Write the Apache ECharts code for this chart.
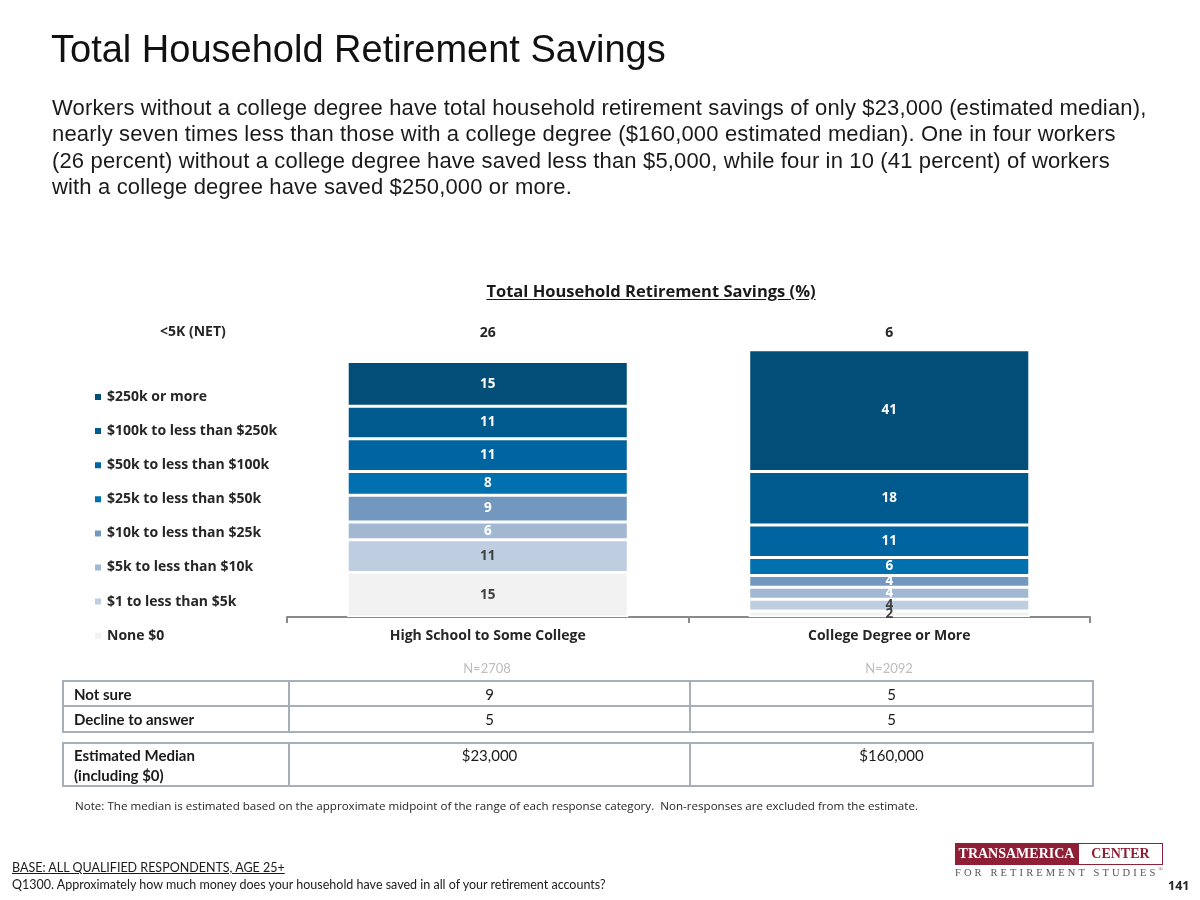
<!DOCTYPE html>
<html>
<head>
<meta charset="utf-8">
<script src="https://cdn.jsdelivr.net/npm/echarts@6/dist/echarts.min.js"></script>
<style>
  html, body { margin:0; padding:0; background:#fff; }
  body { width:1200px; height:900px; position:relative; overflow:hidden; }
  #chart { position:absolute; left:0; top:0; width:1200px; height:900px; }
  .abs { position:absolute; white-space:nowrap; }
  #title { left:51px; top:27px; font-family:"Liberation Sans", Arial, sans-serif; font-size:38px; line-height:44px; color:#111; }
  #sub { left:52px; top:95px; font-family:"Liberation Sans", Arial, sans-serif; font-size:22px; line-height:26.4px; letter-spacing:0.15px; color:#1a1a1a; }
  #ctitle { left:0; width:1302px; text-align:center; top:279px; font-family:"Open Sans", sans-serif; font-weight:bold; font-size:16.5px; color:#1a1a1a; text-decoration:underline; text-underline-offset:2px; }
  .n { font-family:Lato, sans-serif; font-size:13px; color:#bdbdbd; top:660px; width:200px; text-align:center; }
  table { position:absolute; left:62px; border-collapse:collapse; font-family:Lato, sans-serif; font-size:15px; color:#1a1a1a; }
  td { border:2px solid #a7afb9; padding:0 0 0 10px; }
  td.v { text-align:center; padding:0; }
  td.l { font-weight:bold; }
  #note { left:75px; top:798px; font-family:"Open Sans", sans-serif; font-size:11.6px; color:#262626; }
  #base { left:12px; top:860px; font-family:Lato, sans-serif; font-size:12.5px; color:#1a1a1a; text-decoration:underline; }
  #q { left:12px; top:877px; font-family:Lato, sans-serif; font-size:12.5px; color:#1a1a1a; }
  #pg { left:1168px; top:877px; font-family:"Open Sans", sans-serif; font-weight:bold; font-size:12.5px; color:#262626; }
  #logo1 { left:955px; top:843px; width:123px; height:22px; background:#8f1f36; color:#fff; font-family:"Liberation Serif", serif; font-weight:bold; font-size:14px; line-height:22px; text-align:center; }
  #logo2 { left:1078px; top:843px; width:83px; height:20px; border:1px solid #8f1f36; color:#8f1f36; font-family:"Liberation Serif", serif; font-weight:bold; font-size:14px; line-height:20px; text-align:center; }
  #logo3 { left:955px; top:866px; font-family:"Liberation Serif", serif; font-size:10.5px; letter-spacing:3.1px; color:#555; }
</style>
</head>
<body>
<div id="chart"></div>
<div class="abs" id="title">Total Household Retirement Savings</div>
<div class="abs" id="sub">Workers without a college degree have total household retirement savings of only $23,000 (estimated median),<br>nearly seven times less than those with a college degree ($160,000 estimated median). One in four workers<br>(26 percent) without a college degree have saved less than $5,000, while four in 10 (41 percent) of workers<br>with a college degree have saved $250,000 or more.</div>
<div class="abs" id="ctitle">Total Household Retirement Savings (%)</div>
<div class="abs n" style="left:387px">N=2708</div>
<div class="abs n" style="left:789px">N=2092</div>
<table style="top:680px">
  <tr style="height:25px"><td class="l" style="width:214px">Not sure</td><td class="v" style="width:399px">9</td><td class="v" style="width:401px">5</td></tr>
  <tr style="height:26px"><td class="l">Decline to answer</td><td class="v">5</td><td class="v">5</td></tr>
</table>
<table style="top:742px">
  <tr style="height:42px"><td class="l" style="width:214px; vertical-align:top; line-height:20px; padding-top:1px">Estimated Median<br>(including $0)</td><td class="v" style="width:399px; vertical-align:top; padding-top:2px">$23,000</td><td class="v" style="width:401px; vertical-align:top; padding-top:2px">$160,000</td></tr>
</table>
<div class="abs" id="note">Note: The median is estimated based on the approximate midpoint of the range of each response category.&nbsp; Non-responses are excluded from the estimate.</div>
<div class="abs" id="base">BASE: ALL QUALIFIED RESPONDENTS, AGE 25+</div>
<div class="abs" id="q">Q1300. Approximately how much money does your household have saved in all of your retirement accounts?</div>
<div class="abs" id="pg">141</div>
<div class="abs" id="logo1">TRANSAMERICA</div>
<div class="abs" id="logo2">CENTER</div>
<div class="abs" id="logo3">FOR RETIREMENT STUDIES<sup style="font-size:6px">®</sup></div>
<script>
const categories = ['High School to Some College', 'College Degree or More'];
const seriesNames = ['None $0', '$1 to less than $5k', '$5k to less than $10k', '$10k to less than $25k', '$25k to less than $50k', '$50k to less than $100k', '$100k to less than $250k', '$250k or more'];
const noneVals = [15, 2];
const lt5kVals = [11, 4];
const k5to10Vals = [6, 4];
const k10to25Vals = [9, 4];
const k25to50Vals = [8, 6];
const k50to100Vals = [11, 11];
const k100to250Vals = [11, 18];
const k250plusVals = [15, 41];
const netLabel = '<5K (NET)';
const netVals = [26, 6];
const colors = ['#f2f2f2', '#bfcde0', '#a2b7d2', '#7398c0', '#0070ae', '#0064a0', '#005a8e', '#034e79'];
const labelColors = ['#404040', '#404040', '#ffffff', '#ffffff', '#ffffff', '#ffffff', '#ffffff', '#ffffff'];
const allVals = [noneVals, lt5kVals, k5to10Vals, k10to25Vals, k25to50Vals, k50to100Vals, k100to250Vals, k250plusVals];

const chart = echarts.init(document.getElementById('chart'), null, {renderer: 'canvas'});
const FONT = '"Open Sans", sans-serif';
const FS = 14;
const series = seriesNames.map((name, i) => ({
  name, type: 'bar', stack: 'total', data: allVals[i], barWidth: '70%',
  itemStyle: { color: colors[i], borderColor: '#ffffff', borderWidth: 1.5 },
  label: { show: true, position: 'inside', color: labelColors[i], fontFamily: FONT, fontWeight: 'bold', fontSize: 13.5 },
  emphasis: { disabled: true }
}));
chart.setOption({
  animation: false,
  grid: { left: 287, right: 110, top: 320, bottom: 283 },
  legend: {
    orient: 'vertical', left: 88, top: 385, itemGap: 20.1,
    icon: 'rect', itemWidth: 8, itemHeight: 8,
    data: seriesNames.slice().reverse(),
    textStyle: { fontFamily: FONT, fontWeight: 'bold', fontSize: FS, color: '#262626' },
    selectedMode: false
  },
  xAxis: {
    type: 'category', data: categories,
    axisLine: { lineStyle: { color: '#8a8a8a', width: 2 } },
    axisTick: { show: true, length: 6, lineStyle: { color: '#8a8a8a', width: 2 } },
    axisLabel: { margin: 12, color: '#262626', fontFamily: FONT, fontWeight: 'bold', fontSize: FS }
  },
  yAxis: { type: 'value', min: 0, max: 100, show: false, splitLine: { show: false } },
  series
});
const g = [{ type: 'text', left: 160, top: 325, style: { text: netLabel, font: 'bold 14px "Open Sans", sans-serif', fill: '#262626' } }];
categories.forEach((c, i) => {
  const x = chart.convertToPixel({ xAxisIndex: 0 }, c);
  g.push({ type: 'text', x: x, y: 333, style: { text: String(netVals[i]), align: 'center', verticalAlign: 'middle', font: 'bold 14px "Open Sans", sans-serif', fill: '#262626' } });
});
chart.setOption({ graphic: g });
</script>
</body>
</html>
